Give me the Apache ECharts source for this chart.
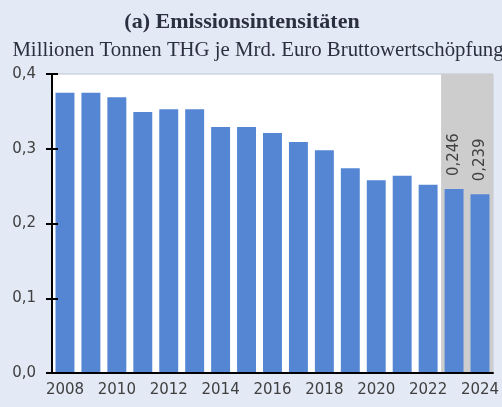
<!DOCTYPE html>
<html>
<head>
<meta charset="utf-8">
<script src="https://cdn.jsdelivr.net/npm/echarts@6/dist/echarts.min.js"></script>
<style>
  html, body { margin: 0; padding: 0; background: #e4e9f6; }
  #container { width: 502px; height: 407px; }
</style>
</head>
<body>
<div id="container"></div>
<script>
let chart = echarts.init(document.getElementById('container'));

// years and intensity values
var years = ['2008', '2009', '2010', '2011', '2012', '2013', '2014', '2015', '2016',
             '2017', '2018', '2019', '2020', '2021', '2022', '2023', '2024'];
var intensity = [0.375, 0.375, 0.369, 0.349, 0.353, 0.353, 0.329, 0.329, 0.321,
                 0.309, 0.298, 0.274, 0.258, 0.264, 0.252, 0.246, 0.239];
// years with a printed value and the grey background
var labelled = ['2023', '2024'];
var yTicks = [0, 0.1, 0.2, 0.3, 0.4];

var shade = years.map(y => labelled.indexOf(y) >= 0 ? yTicks[yTicks.length - 1] : null);

var axisText = {
    color: '#404040',
    fontFamily: 'DejaVu Sans',
    fontSize: 15,
};

var option = {
    backgroundColor: '#e4e9f6',
    animation: false,
    title: [{
        text: '(a) Emissionsintensitäten',
        left: 237,
        top: 6,
        textAlign: 'center',
        textStyle: {
            fontFamily: 'Liberation Serif',
            fontWeight: 'bold',
            fontSize: 22,
            color: '#2b3040',
        },
    }, {
        text: 'Millionen Tonnen THG je Mrd. Euro Bruttowertschöpfung',
        left: 253,
        top: 35,
        textAlign: 'center',
        textStyle: {
            fontFamily: 'Liberation Serif',
            fontWeight: 'normal',
            fontSize: 20.8,
            color: '#2b3040',
        },
    }],
    grid: {
        left: 52,
        right: 6,
        top: 74,
        bottom: 34,
        show: true,
        backgroundColor: '#ffffff',
        borderColor: '#bcc3d3',
        borderWidth: 1,
    },
    xAxis: [{
        type: 'category',
        data: years,
        axisLine: { lineStyle: { color: '#000', width: 2 } },
        axisTick: { show: false },
        axisLabel: Object.assign({ interval: 1, margin: 10 }, axisText),
        z: 5,
    }, {
        type: 'category',
        data: years,
        show: false,
        position: 'bottom',
    }],
    yAxis: [{
        type: 'value',
        min: 0,
        max: 0.4,
        interval: 0.1,
        splitLine: { show: false },
        axisLine: { show: true, lineStyle: { color: '#000', width: 2 } },
        axisTick: { show: true, length: 6, lineStyle: { color: '#000', width: 2 } },
        axisLabel: Object.assign({
            margin: 16,
            formatter: v => v.toFixed(1).replace('.', ','),
        }, axisText),
        z: 5,
    }, {
        type: 'value',
        min: 0,
        max: 0.4,
        interval: 0.1,
        position: 'left',
        splitLine: { show: false },
        axisLine: { show: false },
        axisTick: { show: true, inside: true, length: 6, lineStyle: { color: '#000', width: 2 } },
        axisLabel: { show: false },
        z: 5,
    }],
    series: [{
        name: 'shade',
        type: 'bar',
        xAxisIndex: 1,
        barCategoryGap: '0%',
        silent: true,
        itemStyle: { color: '#cdcdcd' },
        data: shade,
        z: 1,
    }, {
        name: 'Emissionsintensität',
        type: 'bar',
        xAxisIndex: 0,
        barCategoryGap: '27%',
        itemStyle: { color: '#5586d4' },
        label: {
            show: true,
            position: 'top',
            rotate: 90,
            align: 'left',
            verticalAlign: 'middle',
            distance: 13,
            color: '#404040',
            fontFamily: 'DejaVu Sans',
            fontSize: 15,
            formatter: p => labelled.indexOf(p.name) >= 0 ? p.value.toFixed(3).replace('.', ',') : '',
        },
        data: intensity,
        z: 3,
    }],
};

chart.setOption(option);
</script>
</body>
</html>
